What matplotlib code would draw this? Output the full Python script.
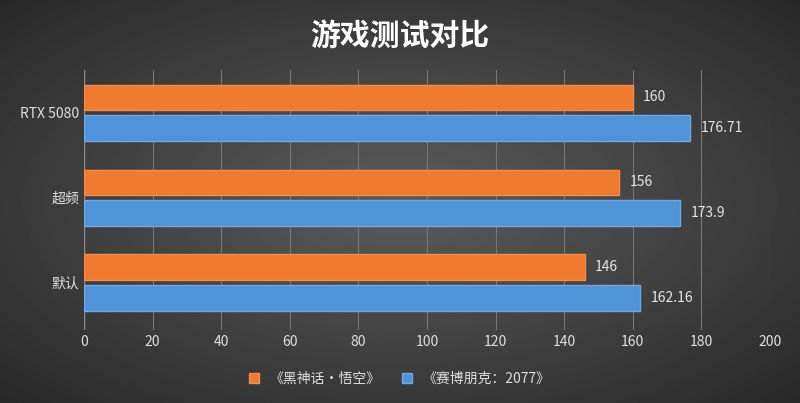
import numpy as np
import matplotlib.pyplot as plt

plt.rcParams["font.family"] = "Noto Sans CJK SC"

categories = ["默认", "超频", "RTX 5080"]
wukong = [146, 156, 160]
cyberpunk = [162.16, 173.9, 176.71]
series_names = ["《黑神话·悟空》", "《赛博朋克：2077》"]
xticks = [0, 20, 40, 60, 80, 100, 120, 140, 160, 180, 200]

fig = plt.figure(figsize=(8, 4.03), dpi=100)

# radial grey background
bg = fig.add_axes([0, 0, 1, 1], zorder=-1)
yy, xx = np.mgrid[-1:1:300j, -1:1:600j]
r = np.sqrt(xx ** 2 + yy ** 2) / np.sqrt(2)
bg.imshow(0.36 - 0.2 * r, cmap="gray", vmin=0, vmax=1, aspect="auto", extent=[0, 1, 0, 1])
bg.axis("off")

ax = fig.add_axes([0.105, 0.181, 0.8575, 0.645])
ax.patch.set_alpha(0)
y = np.arange(len(categories))
h = 0.3
b1 = ax.barh(y + 0.18, wukong, height=h, color="#F07A2E", edgecolor="#F58D4A", zorder=3)
b2 = ax.barh(y - 0.18, cyberpunk, height=h, color="#4F93D8", edgecolor="#6FAAE6", zorder=3)
for bars, vals in ((b1, wukong), (b2, cyberpunk)):
    for rect, v in zip(bars, vals):
        ax.text(v + 3, rect.get_y() + rect.get_height() / 2, f"{v:g}",
                va="center", ha="left", color="#E6E6E6", fontsize=10)

ax.set_xlim(0, 200)
ax.set_ylim(-0.56, 2.5)
ax.set_xticks(xticks)
ax.set_yticks(y)
ax.set_yticklabels(categories)
ax.tick_params(colors="#E0E0E0", labelsize=10, length=0)
ax.grid(axis="x", color="#777777", lw=0.8, zorder=0)
for s in ax.spines.values():
    s.set_visible(False)
ax.axvline(0, color="#8A8A8A", lw=1, zorder=2)

fig.text(0.5, 0.912, "游戏测试对比", ha="center", va="center", color="white",
         fontsize=21.5, fontweight="bold")
fig.legend([b1, b2], series_names, loc="center", bbox_to_anchor=(0.5, 0.06), ncol=2,
           frameon=False, labelcolor="#E0E0E0", fontsize=10, handlelength=0.7,
           handleheight=0.7, columnspacing=1.5)

fig.savefig("out.png", dpi=100)
